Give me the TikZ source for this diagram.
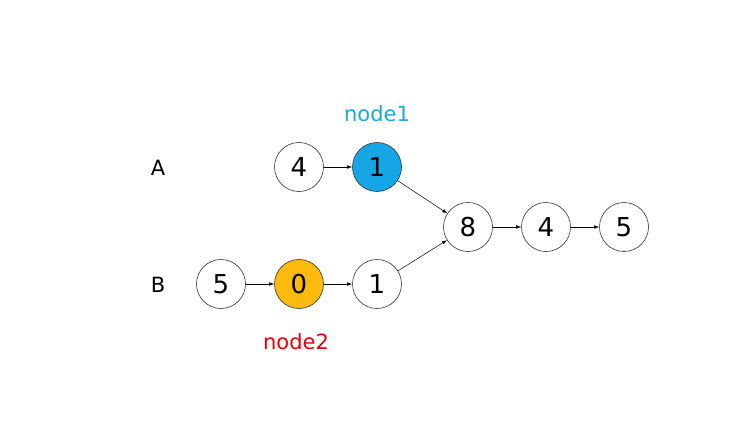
\documentclass[tikz,border=0pt]{standalone}
\usepackage{fontspec}
\setmainfont{DejaVu Sans}
\usetikzlibrary{arrows.meta}
\definecolor{nblue}{HTML}{16A6E6}
\definecolor{norange}{HTML}{FBBA0C}
\definecolor{tblue}{HTML}{1EA8D6}
\definecolor{tred}{HTML}{E0000A}
\begin{document}
\begin{tikzpicture}[x=1pt,y=-1pt,
  listnode/.style={circle,draw=black!80,line width=0.6pt,minimum size=49pt,inner sep=0pt,font=\fontsize{26}{30}\selectfont},
  link/.style={-{Latex[length=5pt,width=3.5pt]},line width=0.5pt},
  lbl/.style={font=\fontsize{21}{25}\selectfont}]
\useasboundingbox (0,0) rectangle (747,436);
\node[lbl] (A) at (158,168) {A};
\node[lbl] (B) at (158,285) {B};
\node[listnode] (a4) at (299,167) {4};
\node[listnode,fill=nblue] (a1) at (377,167) {1};
\node[listnode] (c8) at (468,227) {8};
\node[listnode] (c4) at (546,227) {4};
\node[listnode] (c5) at (624,227) {5};
\node[listnode] (b5) at (221,284) {5};
\node[listnode,fill=norange] (b0) at (299,284) {0};
\node[listnode] (b1) at (377,284) {1};
\node[lbl,text=tblue] (n1) at (377,114) {node1};
\node[lbl,text=tred] (n2) at (296,342) {node2};
\draw[link] (a4) -- (a1);
\draw[link] (a1) -- (c8);
\draw[link] (b5) -- (b0);
\draw[link] (b0) -- (b1);
\draw[link] (b1) -- (c8);
\draw[link] (c8) -- (c4);
\draw[link] (c4) -- (c5);
\end{tikzpicture}
\end{document}
